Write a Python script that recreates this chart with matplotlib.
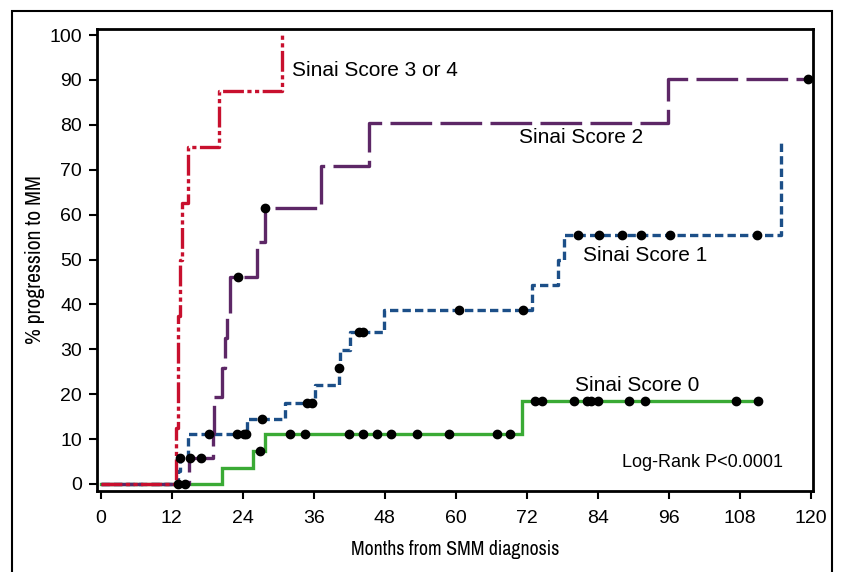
import matplotlib
matplotlib.use("Agg")
import matplotlib.pyplot as plt
from matplotlib.patches import Rectangle
from matplotlib import font_manager

plt.rcParams['font.family'] = ['Liberation Sans', 'DejaVu Sans']
plt.rcParams['lines.scale_dashes'] = False

# step curves: event times (months) and cumulative % progression
red_t = [0, 12.66, 13.0, 13.4, 13.8, 14.8, 20.0]
red_v = [0, 12.5, 37.5, 50, 62.5, 75, 87.5]
red_end = (30.7, 100)

purple_t = [0, 14.9, 18.95, 19.2, 20.5, 21.0, 21.3, 21.8, 26.4, 27.8, 37.2, 45.3, 95.9]
purple_v = [0, 5.7, 11.3, 19.4, 25.8, 32.5, 38.1, 46.2, 53.8, 61.4, 70.8, 80.5, 90.1]
purple_end = (119.5, 90.1)

blue_t = [0, 13.05, 13.5, 14.7, 24.75, 31.1, 36.3, 40.2, 40.45, 42.1, 47.9, 72.9, 77.2, 78.2]
blue_v = [0, 2.9, 5.7, 11.1, 14.4, 18.0, 22.0, 25.8, 29.8, 33.9, 38.8, 44.3, 49.9, 55.5]
blue_end = (115.0, 76.5)

green_t = [0, 20.5, 25.8, 27.7, 71.2]
green_v = [0, 3.6, 7.4, 11.1, 18.5]
green_end = (111.0, 18.5)

# censored observations
cens_x = [13.05, 14.2, 27.0,
          32.0, 34.5, 41.9, 44.3, 46.7, 49.1, 53.4, 58.9, 66.95, 69.2,
          73.3, 74.5, 79.9, 82.2, 82.8, 84.0, 89.2, 91.9, 107.4, 111.0,
          13.5, 18.4, 23.1, 24.2, 24.6, 27.3, 34.9, 35.8, 40.3, 43.6, 44.4,
          60.6, 71.3, 80.6, 84.2, 88.0, 91.3, 96.2, 110.9,
          15.1, 17.0, 23.3, 27.8, 119.5]
cens_y = [0, 0, 7.4,
          11.1, 11.1, 11.1, 11.1, 11.1, 11.1, 11.1, 11.1, 11.1, 11.1,
          18.5, 18.5, 18.5, 18.5, 18.5, 18.5, 18.5, 18.5, 18.5, 18.5,
          5.7, 11.1, 11.1, 11.1, 11.1, 14.4, 18.0, 18.0, 25.8, 33.9, 33.9,
          38.8, 38.8, 55.5, 55.5, 55.5, 55.5, 55.5, 55.5,
          5.7, 5.7, 46.2, 61.4, 90.1]

labels = ["Sinai Score 3 or 4", "Sinai Score 2", "Sinai Score 1", "Sinai Score 0"]
label_pos = [(32.3, 92.2), (70.7, 77.1), (81.5, 51.0), (80.1, 22.0)]

xticks = list(range(0, 121, 12))
yticks = list(range(0, 101, 10))

# narrow font for the axis titles, if one is around
narrow = None
for f in font_manager.fontManager.ttflist:
    if 'Narrow' in f.name or (f.name == 'DejaVu Sans' and 'Condensed' in f.fname
                              and 'Bold' not in f.fname and 'Oblique' not in f.fname):
        narrow = f.fname
        if 'Narrow' in f.name and 'Bold' not in f.fname and 'Italic' not in f.fname:
            break
if narrow:
    xlab_font = font_manager.FontProperties(fname=narrow, size=14.3)
    ylab_font = font_manager.FontProperties(fname=narrow, size=15.6)
else:
    xlab_font = font_manager.FontProperties(family='DejaVu Sans', size=13)
    ylab_font = font_manager.FontProperties(family='DejaVu Sans', size=14)

fig = plt.figure(figsize=(8.46, 5.72), dpi=100)
ax = fig.add_axes([97 / 846, 1 - 491 / 572, (813 - 97) / 846, (491 - 29) / 572])

# outer frame of the panel
fig.add_artist(Rectangle((12 / 846, -0.1), (832 - 12) / 846, 1.1 - 11 / 572,
                         transform=fig.transFigure, fill=False, lw=1.5,
                         edgecolor='black'))


def draw(t, v, end, color, dashes, z):
    xs = t + [end[0]]
    ys = v + [end[1]]
    if end[1] != v[-1]:
        # final step goes up at the end time
        xs = t + [end[0], end[0]]
        ys = v + [v[-1], end[1]]
    line, = ax.step(xs, ys, where='post', color=color, lw=2.4, zorder=z,
                    solid_joinstyle='miter', dash_capstyle='butt')
    if dashes is not None:
        line.set_dashes(dashes)


draw(green_t, green_v, green_end, '#3aaa35', None, 2)
draw(blue_t, blue_v, blue_end, '#1c4f88', (6, 3), 3)
draw(purple_t, purple_v, purple_end, '#5d2766', (30, 6), 4)
draw(red_t, red_v, red_end, '#c8102e', (15, 2.5, 3, 2.5, 3, 2.5), 5)

ax.plot(cens_x, cens_y, 'o', color='black', ms=6, zorder=6, clip_on=False)

for txt, (x, y) in zip(labels, label_pos):
    ax.text(x, y, txt, fontsize=15, va='center', ha='left')
ax.text(88.1, 4.7, "Log-Rank P<0.0001", fontsize=13, va='center', ha='left')

ax.set_xlim(-0.6, 120.34)
ax.set_ylim(-1.56, 101.34)
ax.set_xticks(xticks)
ax.set_yticks(yticks)
ax.tick_params(direction='out', length=5.8, width=1.5, labelsize=14)
ax.tick_params(axis='x', pad=8)
ax.tick_params(axis='y', pad=5)
for s in ax.spines.values():
    s.set_linewidth(2)

ax.set_xlabel("Months from SMM diagnosis", fontproperties=xlab_font, labelpad=9)
ax.set_ylabel("% progression to MM", fontproperties=ylab_font, labelpad=3)

fig.savefig("out.png", dpi=100)
